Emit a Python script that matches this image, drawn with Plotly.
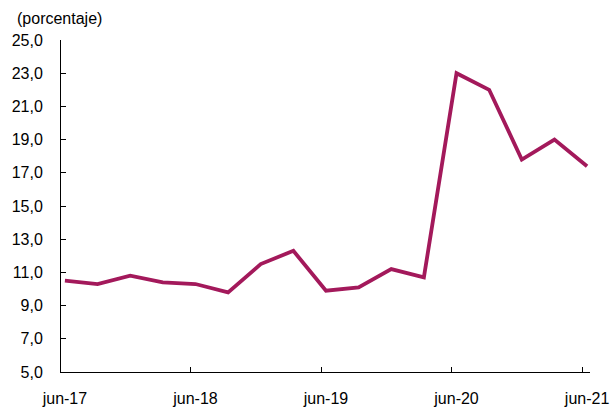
import plotly.graph_objects as go

periods = ["jun-17","sep-17","dic-17","mar-18","jun-18","sep-18","dic-18","mar-19",
           "jun-19","sep-19","dic-19","mar-20","jun-20","sep-20","dic-20","mar-21","jun-21"]
values = [10.5, 10.3, 10.8, 10.4, 10.3, 9.8, 11.5, 12.3, 9.9, 10.1, 11.2, 10.7,
          23.0, 22.0, 17.8, 19.0, 17.4]
tick_labels = ["jun-17", "jun-18", "jun-19", "jun-20", "jun-21"]
tick_idx = [0, 4, 8, 12, 16]

x = list(range(len(values)))

fig = go.Figure()
fig.add_trace(go.Scatter(x=x, y=values, mode="lines",
                         line=dict(color="#A3195B", width=3.8),
                         hoverinfo="skip"))

fig.update_layout(
    width=611, height=407,
    margin=dict(l=61, r=21, t=40, b=35),
    plot_bgcolor="white", paper_bgcolor="white",
    showlegend=False,
    separators=",.",
    font=dict(family="Liberation Sans, Arial, sans-serif", size=16, color="#000000"),
    xaxis=dict(
        range=[-0.12, 16.09],
        tickvals=tick_idx,
        ticktext=tick_labels,
        ticks="",
        minor=dict(tick0=-0.15, dtick=4, ticks="inside", ticklen=5,
                   tickcolor="#000", tickwidth=1, showgrid=False),
        showline=True, linecolor="#000", linewidth=1,
        showgrid=False, zeroline=False,
        ticklabelstandoff=12,
        automargin=False,
    ),
    yaxis=dict(
        range=[5, 25],
        tickvals=[5, 7, 9, 11, 13, 15, 17, 19, 21, 23, 25],
        tickformat=".1f",
        ticks="inside", ticklen=5, tickcolor="#000", tickwidth=1,
        showline=True, linecolor="#000", linewidth=1,
        showgrid=False, zeroline=False,
        ticklabelstandoff=14,
        automargin=False,
    ),
    annotations=[dict(text="(porcentaje)", xref="paper", yref="paper",
                      x=-0.087, y=1.0, yshift=22, xanchor="left", yanchor="middle",
                      showarrow=False, font=dict(size=16))],
)

fig.write_html("out.html", config={"displayModeBar": False},
               post_script="document.body.style.margin='0';document.body.style.overflow='hidden';")
